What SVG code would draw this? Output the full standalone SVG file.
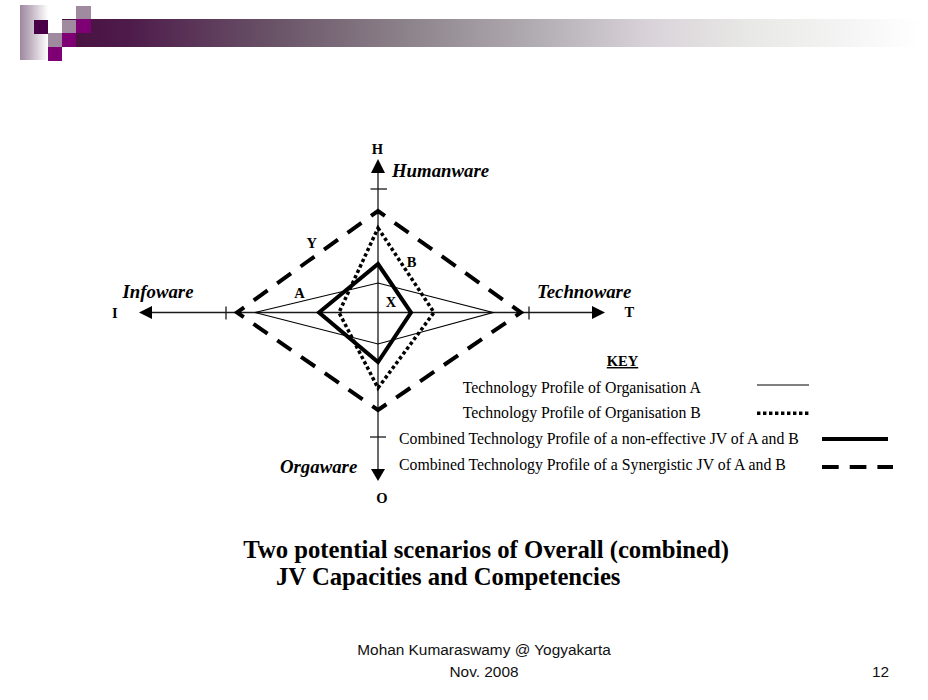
<svg xmlns="http://www.w3.org/2000/svg" width="928" height="700" viewBox="0 0 928 700">
<defs>
<linearGradient id="fadeL" x1="0" y1="0" x2="1" y2="0">
<stop offset="0" stop-color="#9e88a0"/>
<stop offset="0.3" stop-color="#b9a9ba"/>
<stop offset="1" stop-color="#ffffff"/>
</linearGradient>
<linearGradient id="bar" x1="0" y1="0" x2="1" y2="0">
<stop offset="0" stop-color="#48103f"/>
<stop offset="0.08" stop-color="#4e1c4b"/>
<stop offset="0.25" stop-color="#6a5468"/>
<stop offset="0.4" stop-color="#8c828a"/>
<stop offset="0.55" stop-color="#b1acb1"/>
<stop offset="0.68" stop-color="#d8d2d8"/>
<stop offset="0.8" stop-color="#e8e8e6"/>
<stop offset="0.92" stop-color="#f5f5f5"/>
<stop offset="1" stop-color="#ffffff"/>
</linearGradient>
</defs>
<style>
.ax{stroke:#1a1a1a;stroke-width:1.3;fill:none}
.ah{fill:#000}
.lbl{font-family:"Liberation Serif","Times New Roman",serif;font-weight:bold;font-size:14.5px;fill:#000}
.axn{font-family:"Liberation Serif","Times New Roman",serif;font-weight:bold;font-style:italic;font-size:18.8px;fill:#000}
.key{font-family:"Liberation Serif","Times New Roman",serif;font-size:15.8px;fill:#000}
.ttl{font-family:"Liberation Serif","Times New Roman",serif;font-weight:bold;font-size:24.7px;fill:#000}
.ftr{font-family:"Liberation Sans",Arial,sans-serif;font-size:15.4px;fill:#111}
.pA{stroke:#000;stroke-width:1.2;fill:none;stroke-linejoin:miter}
.pB{stroke:#000;stroke-width:3.5;fill:none;stroke-dasharray:3.4 2.6}
.pX{stroke:#000;stroke-width:4;fill:none;stroke-linejoin:miter}
.pY{stroke:#000;stroke-width:4;fill:none;stroke-linejoin:miter}
</style>
<rect width="928" height="700" fill="#ffffff"/>
<g id="header">
<rect x="62" y="19" width="858" height="28" fill="url(#bar)"/>
<rect x="20" y="5" width="28" height="55" fill="url(#fadeL)"/>
<rect x="34" y="20" width="14" height="14" fill="#4a0046"/>
<rect x="48" y="33" width="14" height="14" fill="#a08aa0"/>
<rect x="48" y="47" width="14" height="14" fill="#7f0074"/>
<rect x="62" y="20" width="14" height="13" fill="#a08aa0"/>
<rect x="62" y="33" width="14" height="14" fill="#7f0074"/>
<rect x="76" y="6" width="15" height="14" fill="#a08aa0"/>
<rect x="76" y="19" width="15" height="14" fill="#7f0074"/>
</g>
<g id="axes">
<line class="ax" x1="378" y1="172" x2="378" y2="470"/>
<line class="ax" x1="151" y1="312.5" x2="593" y2="312.5"/>
<polygon class="ah" points="378,159 371,173 385,173"/>
<polygon class="ah" points="378,481 371,469 385,469"/>
<polygon class="ah" points="139,312.5 152,306 152,319"/>
<polygon class="ah" points="605,312.5 592,306 592,319"/>
<line class="ax" x1="370.5" y1="189" x2="387" y2="189"/>
<line class="ax" x1="370" y1="437" x2="386" y2="437"/>
<line class="ax" x1="226" y1="306.5" x2="226" y2="319.5"/>
<line class="ax" x1="529" y1="306.5" x2="529" y2="319.5"/>
</g>
<g id="profiles">
<polygon id="profile-A" class="pA" points="255,312.5 378,283 493,312.5 378,344"/>
<polygon id="profile-B" class="pB" points="378,228 434,312.5 378,388 339,312.5"/>
<polygon id="profile-X" class="pX" points="378,264 411,312.5 378,362 319,312.5"/>
<path id="profile-Y" class="pY" d="M307.5,261.5 L378,211 L521,312.5 L378,410 L237,312.5 Z" pathLength="24" stroke-dasharray="0.59 0.41" stroke-dashoffset="0.295"/>
</g>
<g id="axis-labels">
<text class="lbl" x="377.5" y="154" text-anchor="middle">H</text>
<text class="axn" x="392" y="177">Humanware</text>
<text class="axn" x="122.5" y="298">Infoware</text>
<text class="lbl" x="112" y="318">I</text>
<text class="axn" x="537" y="298">Technoware</text>
<text class="lbl" x="624.5" y="317">T</text>
<text class="axn" x="280" y="473">Orgaware</text>
<text class="lbl" x="382" y="503" text-anchor="middle">O</text>
</g>
<g id="profile-labels">
<text class="lbl" x="311.7" y="247.5" text-anchor="middle">Y</text>
<text class="lbl" x="411.5" y="266.5" text-anchor="middle">B</text>
<text class="lbl" x="299.5" y="298" text-anchor="middle">A</text>
<text class="lbl" x="391" y="306.5" text-anchor="middle">X</text>
</g>
<g id="key">
<text class="lbl" x="622.5" y="366" text-anchor="middle" font-size="18.5" text-decoration="underline">KEY</text>
<text class="key" x="462.7" y="392.7">Technology Profile of Organisation A</text>
<line class="pA" x1="757" y1="385" x2="809" y2="385"/>
<text class="key" x="462.7" y="418.3">Technology Profile of Organisation B</text>
<line class="pB" x1="757" y1="413.3" x2="810" y2="413.3"/>
<text class="key" x="399" y="444.3">Combined Technology Profile of a non-effective JV of A and B</text>
<line class="pX" x1="822" y1="439" x2="888" y2="439"/>
<text class="key" x="399" y="470">Combined Technology Profile of a Synergistic JV of A and B</text>
<line class="pY" x1="822" y1="467" x2="893" y2="467" stroke-dasharray="16.7 11"/>
</g>
<g id="title">
<text class="ttl" x="243.3" y="558">Two potential scenarios of Overall (combined)</text>
<text class="ttl" x="276" y="585">JV Capacities and Competencies</text>
</g>
<g id="footer">
<text class="ftr" x="484" y="655" text-anchor="middle">Mohan Kumaraswamy @ Yogyakarta</text>
<text class="ftr" x="484" y="677" text-anchor="middle">Nov. 2008</text>
<text class="ftr" x="872" y="677">12</text>
</g>
</svg>
